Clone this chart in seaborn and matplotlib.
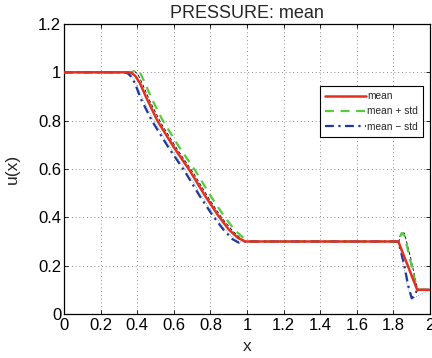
import matplotlib
matplotlib.use("Agg")
import matplotlib.pyplot as plt
import seaborn as sns
import pandas as pd

# ---- data ----
mean_x = [0.0, 0.35, 0.37, 0.39, 0.415, 0.45, 0.51, 0.60, 0.69, 0.77, 0.84, 0.90, 0.95, 0.99, 1.827, 1.93, 2.0]
mean_u = [1.0, 1.0, 0.997, 0.985, 0.955, 0.895, 0.80, 0.69, 0.59, 0.49, 0.41, 0.35, 0.315, 0.30, 0.30, 0.10, 0.10]

plus_x = [0.0, 0.37, 0.395, 0.415, 0.44, 0.48, 0.54, 0.63, 0.72, 0.80, 0.87, 0.93, 0.98, 1.01,
          1.83, 1.845, 1.86, 1.89, 1.92, 1.935, 2.0]
plus_u = [1.0, 1.0, 1.01, 1.0, 0.96, 0.89, 0.80, 0.69, 0.59, 0.49, 0.41, 0.35, 0.315, 0.30,
          0.30, 0.335, 0.325, 0.23, 0.13, 0.10, 0.10]

minus_x = [0.0, 0.33, 0.35, 0.37, 0.39, 0.42, 0.48, 0.57, 0.66, 0.74, 0.81, 0.87, 0.92, 0.955, 0.975,
           1.827, 1.86, 1.88, 1.90, 1.915, 1.93, 2.0]
minus_u = [1.0, 1.0, 0.995, 0.98, 0.95, 0.89, 0.80, 0.69, 0.59, 0.49, 0.41, 0.35, 0.31, 0.295, 0.30,
           0.30, 0.20, 0.12, 0.065, 0.075, 0.10, 0.10]

upper_x = [0.0, 0.36, 0.385, 0.405, 0.43, 0.47, 0.53, 0.62, 0.71, 0.79, 0.86, 0.92, 0.97, 1.0,
           1.83, 1.84, 1.86, 1.895, 1.93, 1.94, 2.0]
upper_u = [1.0, 1.0, 1.005, 0.99, 0.95, 0.88, 0.79, 0.68, 0.58, 0.48, 0.40, 0.345, 0.31, 0.30,
           0.30, 0.335, 0.335, 0.23, 0.11, 0.10, 0.10]

lower_x = [0.0, 0.34, 0.365, 0.39, 0.43, 0.49, 0.58, 0.67, 0.75, 0.82, 0.88, 0.93, 0.965, 0.985,
           1.825, 1.835, 1.855, 1.875, 1.90, 1.92, 2.0]
lower_u = [1.0, 1.0, 0.99, 0.96, 0.89, 0.80, 0.69, 0.59, 0.49, 0.41, 0.35, 0.31, 0.298, 0.30,
           0.30, 0.28, 0.20, 0.12, 0.06, 0.07, 0.10]

x_ticks = [0, 0.2, 0.4, 0.6, 0.8, 1, 1.2, 1.4, 1.6, 1.8, 2]
x_tick_labels = ["0", "0.2", "0.4", "0.6", "0.8", "1", "1.2", "1.4", "1.6", "1.8", "2"]
y_ticks = [0, 0.2, 0.4, 0.6, 0.8, 1, 1.2]
y_tick_labels = ["0", "0.2", "0.4", "0.6", "0.8", "1", "1.2"]

sns.set_style("ticks")
plt.rcParams["font.family"] = ["Liberation Sans", "DejaVu Sans"]

fig = plt.figure(figsize=(4.32, 3.58), dpi=100)
ax = fig.add_axes([64 / 432, 44 / 358, 366 / 432, 290 / 358])

red = "#e3301f"
green = "#55cc3c"
blue = "#1c3a9e"

# thin reference envelopes (behind)
sns.lineplot(x=upper_x, y=upper_u, ax=ax, sort=False, color="black", lw=0.6,
             linestyle=(0, (4, 2.5)), zorder=2)
sns.lineplot(x=lower_x, y=lower_u, ax=ax, sort=False, color="#6a8ad8", lw=0.6,
             linestyle=(0, (1, 1.5)), zorder=2)

sns.lineplot(x=plus_x, y=plus_u, ax=ax, sort=False, color=green, lw=1.6,
             linestyle=(0, (4, 3)), label="mean + std", zorder=3)
sns.lineplot(x=minus_x, y=minus_u, ax=ax, sort=False, color=blue, lw=1.6,
             linestyle=(0, (4, 2, 1, 2)), label="mean \u2212 std", zorder=3)
sns.lineplot(x=mean_x, y=mean_u, ax=ax, sort=False, color=red, lw=1.8,
             label="mean", zorder=4)

ax.set_xlim(0, 2)
ax.set_ylim(0, 1.2)
ax.set_xticks(x_ticks)
ax.set_xticklabels(x_tick_labels)
ax.set_yticks(y_ticks)
ax.set_yticklabels(y_tick_labels)
ax.tick_params(direction="in", top=True, right=True, length=3, width=0.6,
               labelsize=12, colors="black")
ax.tick_params(axis="x", pad=3)
ax.tick_params(axis="y", pad=2)
for s in ax.spines.values():
    s.set_linewidth(0.9)
    s.set_color("black")
ax.grid(True, linestyle=(0, (1, 3.5)), color="#666666", lw=0.6)

ax.set_xlabel("x", fontsize=12.5, labelpad=4)
ax.set_ylabel("u(x)", fontsize=12.5, labelpad=13)
ax.set_title("PRESSURE: mean", fontsize=13, pad=4)

handles, labels = ax.get_legend_handles_labels()
order = [labels.index("mean"), labels.index("mean + std"), labels.index("mean \u2212 std")]
leg = ax.legend([handles[i] for i in order], [labels[i] for i in order],
                loc="upper left", bbox_to_anchor=(0.70, 0.785), fontsize=7.3,
                frameon=True, fancybox=False, framealpha=1, edgecolor="black",
                handlelength=4.0, handletextpad=0.1, borderpad=0.5, labelspacing=0.5,
                borderaxespad=0)
leg.get_frame().set_linewidth(0.8)

fig.savefig("out.png", dpi=100)
